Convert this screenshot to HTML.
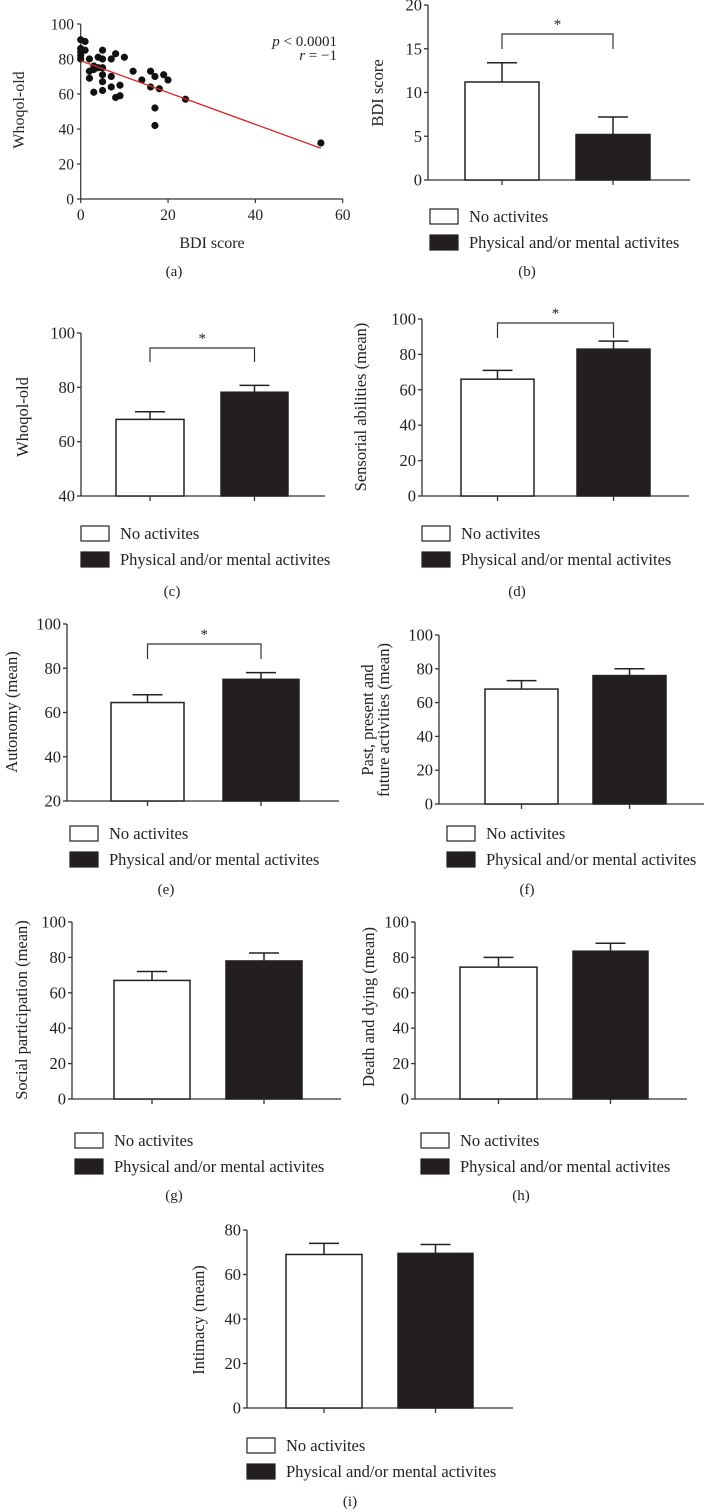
<!DOCTYPE html>
<html><head><meta charset="utf-8"><style>
html,body{margin:0;padding:0;background:#fff;}
svg{display:block;}
text{font-family:"Liberation Serif",serif;fill:#222;}
</style></head>
<body>
<svg id="fig" width="704" height="1512" viewBox="0 0 704 1512" xmlns="http://www.w3.org/2000/svg"></svg>
<script>
// ---- Data ----
const scatterX = [0,0,0,0,0,1,1,2,2,2,3,3,4,4,3,5,5,5,5,5,5,7,7,7,8,8,9,9,10,12,14,16,16,17,17,17,18,19,20,24,55];
const scatterY = [91,86,84,82,80,90,85,80,73,69,61,74,81,75,76,85,80,75,71,67,62,80,70,64,83,58,65,59,81,73,68,73,64,70,52,42,63,71,68,57,32];
const fitLine = [[0,79],[55,29]];
const groups = ["No activites","Physical and/or mental activites"];
const bdiMeans = [11.2,5.2], bdiErr = [13.4,7.2];
const whoqolMeans = [68.2,78.2], whoqolErr = [71,80.7];
const sensMeans = [66,83], sensErr = [71,87.5];
const autoMeans = [64.5,75], autoErr = [68,78];
const pastMeans = [68,76], pastErr = [73,80];
const socialMeans = [67,78], socialErr = [72,82.5];
const deathMeans = [74.5,83.5], deathErr = [80,88];
const intimMeans = [69,69.5], intimErr = [74,73.5];

const svg = document.getElementById('fig');
const NS = 'http://www.w3.org/2000/svg';
function el(tag, attrs, parent){
  const e = document.createElementNS(NS, tag);
  for (const k in attrs) e.setAttribute(k, attrs[k]);
  (parent||svg).appendChild(e);
  return e;
}
function txt(s, attrs, parent){ const t = el('text', attrs, parent); t.textContent = s; return t; }

// ---- Scatter panel (a) ----
(function(){
  const g = el('g', {});
  
  
  const x = v => 80.7 + v/60*262;
  const y = v => 199 - v/100*175;
  el('line',{x1:80.7,y1:24,x2:80.7,y2:199,stroke:'#333','stroke-width':1.2},g);
  el('line',{x1:80.7,y1:199,x2:343,y2:199,stroke:'#333','stroke-width':1.2},g);
  [0,20,40,60,80,100].forEach(v=>{
    el('line',{x1:77,y1:y(v),x2:80.7,y2:y(v),stroke:'#333','stroke-width':1.2},g);
    const t = txt(String(v),{x:74,y:y(v)+5.5,'text-anchor':'end','font-size':15.5},g);
    
    
  });
  [0,20,40,60].forEach(v=>{
    el('line',{x1:x(v),y1:199,x2:x(v),y2:203,stroke:'#333','stroke-width':1.2},g);
    const t = txt(String(v),{x:x(v),y:220,'text-anchor':'middle','font-size':15.5},g);
    
    
  });
  for (let i=0;i<scatterX.length;i++){
    const c = el('circle',{cx:x(scatterX[i]),cy:y(scatterY[i]),r:3.6,fill:'#111'},g);
    
    
  }
  const ln = el('line',{x1:x(fitLine[0][0]),y1:y(fitLine[0][1]),x2:x(fitLine[1][0]),y2:y(fitLine[1][1]),stroke:'#d42a2a','stroke-width':1.3},g);
  
  
  const p = el('text',{x:337,y:46,'text-anchor':'end','font-size':15},g);
  
  
  p.innerHTML = '<tspan font-style="italic">p</tspan> &lt; 0.0001';
  const r = el('text',{x:337,y:60,'text-anchor':'end','font-size':15},g);
  
  
  r.innerHTML = '<tspan font-style="italic">r</tspan> = −1';
  const yt = txt('Whoqol-old',{x:0,y:0,'text-anchor':'middle','font-size':16,transform:'translate(24,110) rotate(-90)'},g);
  
  
  const xt = txt('BDI score',{x:212,y:248,'text-anchor':'middle','font-size':16},g);
  
  
  const pl = txt('(a)',{x:174,y:276,'text-anchor':'middle','font-size':15},g);
  
  
})();

// ---- Bar panels ----
function barPanel(o){
  const g = el('g', {});
  
  
  const y = v => o.yBot - (v - o.min)/(o.max - o.min)*(o.yBot - o.yTop);
  el('line',{x1:o.ax,y1:o.yTop,x2:o.ax,y2:o.yBot,stroke:'#333','stroke-width':1.3},g);
  el('line',{x1:o.ax,y1:o.yBot,x2:o.axEnd,y2:o.yBot,stroke:'#333','stroke-width':1.3},g);
  o.ticks.forEach(v=>{
    el('line',{x1:o.ax-4,y1:y(v),x2:o.ax,y2:y(v),stroke:'#333','stroke-width':1.3},g);
    const t = txt(String(v),{x:o.ax-6,y:y(v)+5.5,'text-anchor':'end','font-size':16.5},g);
    
    
  });
  for (let i=0;i<2;i++){
    const [l,rr] = o.bars[i];
    const cx = (l+rr)/2;
    const top = y(o.means[i]);
    const b = el('rect',{x:l,y:top,width:rr-l,height:o.yBot-top,fill:i?'#231f20':'#fff',stroke:'#222','stroke-width':1.5},g);
    
    
    const eb = el('path',{d:`M${cx},${top} V${y(o.errs[i])} M${cx-15},${y(o.errs[i])} H${cx+15}`,stroke:'#222','stroke-width':1.5,fill:'none'},g);
    
    
    el('line',{x1:cx,y1:o.yBot,x2:cx,y2:o.yBot+5,stroke:'#333','stroke-width':1.3},g);
  }
  if (o.bracket){
    const [bt,bl] = o.bracket;
    const c1 = (o.bars[0][0]+o.bars[0][1])/2, c2 = (o.bars[1][0]+o.bars[1][1])/2;
    const br = el('path',{d:`M${c1},${bl} V${bt} H${c2} V${bl}`,stroke:'#333','stroke-width':1.2,fill:'none'},g);
    
    
    const st = txt('*',{x:(c1+c2)/2,y:bt-5,'text-anchor':'middle','font-size':15},g);
    
    
  }
  const lines = o.ylabel;
  lines.forEach((s,k)=>{
    const t = txt(s,{x:0,y:0,'text-anchor':'middle','font-size':16.5,transform:`translate(${o.ylx + k*16},${o.yly}) rotate(-90)`},g);
    
    
  });
  for (let i=0;i<2;i++){
    const ly = o.legY + i*26;
    const sw = el('rect',{x:o.legX,y:ly,width:28,height:15,fill:i?'#231f20':'#fff',stroke:'#222','stroke-width':1.2},g);
    
    
    const t = txt(groups[i],{x:o.legX+39,y:ly+13,'font-size':16.5},g);
    
    
  }
  const pl = txt(o.label,{x:o.lblX,y:o.lblY,'text-anchor':'middle','font-size':15},g);
  
  
}

barPanel({name:'panel-b-bdi',ax:428,axEnd:690,yTop:5,yBot:180,min:0,max:20,ticks:[0,5,10,15,20],
  bars:[[465,539],[576,650]],means:bdiMeans,errs:bdiErr,bracket:[34,49],
  ylabel:['BDI score'],ylx:383,yly:93,legX:430,legY:209,label:'(b)',lblX:527,lblY:276});
barPanel({name:'panel-c-whoqol',ax:81,axEnd:325,yTop:333,yBot:496,min:40,max:100,ticks:[40,60,80,100],
  bars:[[116,184],[221,288]],means:whoqolMeans,errs:whoqolErr,bracket:[348,362],
  ylabel:['Whoqol-old'],ylx:28,yly:417,legX:81,legY:526,label:'(c)',lblX:172,lblY:596});
barPanel({name:'panel-d-sensorial',ax:422,axEnd:689,yTop:319,yBot:496,min:0,max:100,ticks:[0,20,40,60,80,100],
  bars:[[461,534],[577,650]],means:sensMeans,errs:sensErr,bracket:[323,338],
  ylabel:['Sensorial abilities (mean)'],ylx:366,yly:407,legX:422,legY:526,label:'(d)',lblX:517,lblY:596});
barPanel({name:'panel-e-autonomy',ax:67,axEnd:339,yTop:624,yBot:801,min:20,max:100,ticks:[20,40,60,80,100],
  bars:[[111,184],[223,299]],means:autoMeans,errs:autoErr,bracket:[644,659],
  ylabel:['Autonomy (mean)'],ylx:17,yly:712,legX:70,legY:826,label:'(e)',lblX:166,lblY:894});
barPanel({name:'panel-f-past-present-future',ax:439,axEnd:704,yTop:635,yBot:804,min:0,max:100,ticks:[0,20,40,60,80,100],
  bars:[[485,558],[593,666]],means:pastMeans,errs:pastErr,bracket:null,
  ylabel:['Past, present and','future activities (mean)'],ylx:373,yly:720,legX:447,legY:826,label:'(f)',lblX:527,lblY:894});
barPanel({name:'panel-g-social',ax:72,axEnd:341,yTop:922,yBot:1099,min:0,max:100,ticks:[0,20,40,60,80,100],
  bars:[[114,190],[226,302]],means:socialMeans,errs:socialErr,bracket:null,
  ylabel:['Social participation (mean)'],ylx:27,yly:1010,legX:75,legY:1133,label:'(g)',lblX:174,lblY:1200});
barPanel({name:'panel-h-death',ax:415,axEnd:687,yTop:922,yBot:1099,min:0,max:100,ticks:[0,20,40,60,80,100],
  bars:[[460,537],[573,648]],means:deathMeans,errs:deathErr,bracket:null,
  ylabel:['Death and dying (mean)'],ylx:374,yly:1007,legX:421,legY:1133,label:'(h)',lblX:521,lblY:1200});
barPanel({name:'panel-i-intimacy',ax:247,axEnd:513,yTop:1230,yBot:1408,min:0,max:80,ticks:[0,20,40,60,80],
  bars:[[286,362],[398,473]],means:intimMeans,errs:intimErr,bracket:null,
  ylabel:['Intimacy (mean)'],ylx:204,yly:1320,legX:247,legY:1438,label:'(i)',lblX:350,lblY:1506});
</script>
</body></html>
